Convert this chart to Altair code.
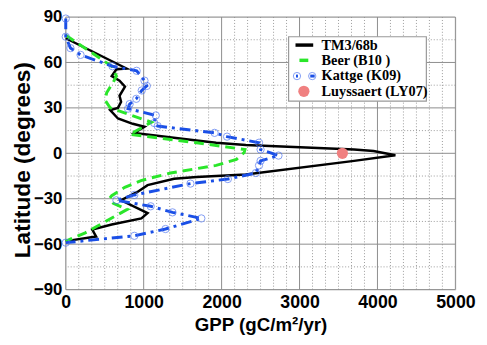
import altair as alt
import pandas as pd

# ---- data ----
tm3_gpp = [0, 780, 650, 590, 690, 760, 690, 710, 670, 570, 670, 860, 1010, 880,
           1680, 1930, 2310, 3700, 3950, 4230, 3700, 2310, 1930, 1680, 1390, 1050,
           920, 710, 1050, 970, 590, 340, 390, 0]
tm3_lat = [76, 56, 55.5, 51, 48, 44, 38, 34, 30, 28.5, 23, 19.5, 17.5, 13.5,
           8.5, 7, 5.5, 2.5, 1.5, -1.3, -5, -14, -15, -15.7, -16.8, -21,
           -25.5, -31, -39.5, -43, -47, -50.3, -55, -58]

beer_gpp = [0, 590, 650, 610, 525, 505, 570, 1100, 820, 1680, 2300, 2290, 2190,
            1930, 1345, 966, 757, 590, 560, 610, 790, 250, 0]
beer_lat = [78, 57.5, 51, 47, 40, 35, 30, 20.5, 12.5, 7, 2.5, 0.5, -4,
            -8, -13, -18, -22.5, -28, -30, -33, -37, -52.5, -58]

kattge_gpp = [0, 0, 60, 190, 600, 910, 1010, 1040, 975, 905, 820, 800, 1155, 1135,
              1180, 1910, 2070, 2480, 2500, 2730, 2500, 2480, 2440, 2080, 1600,
              880, 650, 1090, 1370, 1740, 1280, 880, 0]
kattge_lat = [89, 77, 69.5, 65, 57.5, 54.5, 48, 44.5, 41.5, 36, 32.5, 29.5, 25, 20,
              18, 13.5, 11, 7, 2.5, -1.5, -5, -8, -13, -17, -20,
              -27.5, -31, -35, -39, -43, -50, -54.5, -59]

luyssaert_gpp = [3550]
luyssaert_lat = [0]

legend_labels = ["TM3/68b", "Beer (B10 )", "Kattge (K09)", "Luyssaert (LY07)"]

x_major = [0, 1000, 2000, 3000, 4000, 5000]
y_major = [-90, -60, -30, 0, 30, 60, 90]
x_minor = [round(k * 1000 / 6, 2) for k in range(31) if k % 6 != 0]
y_minor = [-75, -45, -15, 15, 45, 75]

W, H = 396, 277


def series(g, l):
    return pd.DataFrame({"gpp": g, "lat": l, "i": list(range(len(g)))})


xscale = alt.Scale(domain=[0, 5000], nice=False, zero=False)
yscale = alt.Scale(domain=[-90, 90], nice=False, zero=False)

xaxis = alt.Axis(values=x_major, grid=False, ticks=False, domain=False,
                 labelOverlap=False, labelFlush=False, format="d",
                 labelFont="Liberation Sans", labelFontWeight="bold", labelFontSize=18,
                 labelColor="black", labelPadding=4,
                 title="GPP (gC/m²/yr)", titleFont="Liberation Sans",
                 titleFontWeight="bold", titleFontSize=19, titleColor="black",
                 titleY=42, titleBaseline="alphabetic")
yaxis = alt.Axis(values=y_major, grid=False, ticks=False, domain=False,
                 labelOverlap=False, labelFlush=False, format="d",
                 labelFont="Liberation Sans", labelFontWeight="bold", labelFontSize=17,
                 labelColor="black", labelPadding=4,
                 title="Latitude (degrees)", titleFont="Liberation Sans",
                 titleFontWeight="bold", titleFontSize=23, titleColor="black",
                 titleX=-37, titleY=145, titleAngle=270, titleBaseline="alphabetic")

# ---- grid ----
gx_minor = alt.Chart(pd.DataFrame({"v": x_minor})).mark_rule(
    color="#9a9a9a", strokeWidth=1, strokeDash=[1, 2]).encode(
    x=alt.X("v:Q", scale=xscale, axis=xaxis))
gy_minor = alt.Chart(pd.DataFrame({"v": y_minor})).mark_rule(
    color="#9a9a9a", strokeWidth=1, strokeDash=[1, 2]).encode(
    y=alt.Y("v:Q", scale=yscale, axis=yaxis))
gx_major = alt.Chart(pd.DataFrame({"v": x_major})).mark_rule(
    color="#8c8c8c", strokeWidth=1).encode(x=alt.X("v:Q", scale=xscale))
gy_major = alt.Chart(pd.DataFrame({"v": y_major})).mark_rule(
    color="#8c8c8c", strokeWidth=1).encode(y=alt.Y("v:Q", scale=yscale))

tm3 = alt.Chart(series(tm3_gpp, tm3_lat)).mark_line(color="black", strokeWidth=2.5).encode(
    x=alt.X("gpp:Q", scale=xscale), y=alt.Y("lat:Q", scale=yscale), order="i:Q")

beer = alt.Chart(series(beer_gpp, beer_lat)).mark_line(
    color="#2ae62a", strokeWidth=3, strokeDash=[10, 6]).encode(
    x=alt.X("gpp:Q", scale=xscale), y=alt.Y("lat:Q", scale=yscale), order="i:Q")

kattge_line = alt.Chart(series(kattge_gpp, kattge_lat)).mark_line(
    color="#1a4fe6", strokeWidth=3, strokeDash=[11, 5, 3, 5]).encode(
    x=alt.X("gpp:Q", scale=xscale), y=alt.Y("lat:Q", scale=yscale), order="i:Q")

kattge_pts = alt.Chart(series(kattge_gpp, kattge_lat)).mark_point(
    shape="circle", filled=False, color="#4f74f0", strokeWidth=1, size=55).encode(
    x=alt.X("gpp:Q", scale=xscale), y=alt.Y("lat:Q", scale=yscale))

luy = alt.Chart(series(luyssaert_gpp, luyssaert_lat)).mark_point(
    shape="circle", filled=True, color="#f08080", opacity=1, size=130).encode(
    x=alt.X("gpp:Q", scale=xscale), y=alt.Y("lat:Q", scale=yscale))

# ---- manual legend (pixel positions inside plot area) ----
one = pd.DataFrame({"a": [0]})
lx0, lx1, ly0, ly1 = 226.5, 366.5, 20, 85.5
rows = [28.5, 44, 60, 75.5]
box = alt.Chart(one).mark_rect(fill="white", stroke="#999999", strokeWidth=1.2).encode(
    x=alt.value(lx0), x2=alt.value(lx1), y=alt.value(ly0), y2=alt.value(ly1))
sym_black = alt.Chart(one).mark_rule(color="black", strokeWidth=3.5).encode(
    x=alt.value(233.5), x2=alt.value(251.5), y=alt.value(rows[0]))
sym_green = alt.Chart(one).mark_rule(color="#2ae62a", strokeWidth=3.5).encode(
    x=alt.value(237.5), x2=alt.value(246.5), y=alt.value(rows[1]))
sym_k1 = alt.Chart(one).mark_point(shape="circle", filled=False, color="#4f74f0",
                                    strokeWidth=1, size=55).encode(
    x=alt.value(235), y=alt.value(rows[2]))
sym_k2 = alt.Chart(one).mark_point(shape="circle", filled=False, color="#4f74f0",
                                    strokeWidth=1, size=55).encode(
    x=alt.value(250.5), y=alt.value(rows[2]))
sym_kd1 = alt.Chart(one).mark_rule(color="#1a4fe6", strokeWidth=3).encode(
    x=alt.value(234), x2=alt.value(236), y=alt.value(rows[2]))
sym_kd2 = alt.Chart(one).mark_rule(color="#1a4fe6", strokeWidth=3).encode(
    x=alt.value(248.5), x2=alt.value(253), y=alt.value(rows[2]))
sym_l = alt.Chart(one).mark_point(shape="circle", filled=True, color="#f08080",
                                   opacity=1, size=130).encode(
    x=alt.value(242), y=alt.value(rows[3]))

texts = []
for lab, ry in zip(legend_labels, rows):
    texts.append(alt.Chart(pd.DataFrame({"t": [lab]})).mark_text(
        align="left", baseline="middle", font="Liberation Serif", fontWeight="bold",
        fontSize=14.5, color="black").encode(
        text="t:N", x=alt.value(260), y=alt.value(ry + 0.5)))

chart = alt.layer(
    gx_minor, gy_minor, gx_major, gy_major,
    tm3, beer, kattge_line, kattge_pts, luy,
    box, sym_black, sym_green, sym_kd1, sym_kd2, sym_k1, sym_k2, sym_l, *texts
).properties(
    width=W, height=H,
    autosize=alt.AutoSizeParams(type="none"),
    padding={"left": 58.7, "top": 6.5, "right": 24, "bottom": 45}
).configure_view(stroke="black", strokeWidth=3).configure(background="white")

chart.save("out.html", embed_options={"renderer": "svg", "actions": False})
